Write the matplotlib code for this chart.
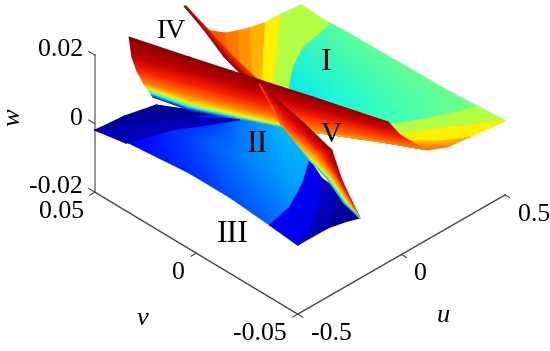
import numpy as np
import matplotlib
matplotlib.use('Agg')
import matplotlib.pyplot as plt
from mpl_toolkits.mplot3d import proj3d

plt.rcParams['font.family'] = ['Liberation Serif', 'DejaVu Serif']

# axis ticks
u_ticks = [-0.5, 0, 0.5]
v_ticks = [-0.05, 0, 0.05]
w_ticks = [-0.02, 0, 0.02]
u_ticklabels = ['-0.5', '0', '0.5']
v_ticklabels = ['-0.05', '0', '0.05']
w_ticklabels = ['-0.02', '0', '0.02']

# region I, smooth part
u_region1 = [[0.488, 0.495, 0.500, 0.505, 0.523], [-0.092, -0.084, -0.034, 0.020, 0.037]]
v_region1 = [[0.0393, 0.0287, 0.0020, -0.0222, -0.0477], [0.0056, -0.0034, -0.0181, -0.0299, -0.0578]]
w_region1 = [0.0, 0.012]
c_region1 = [[0.44, 0.46, 0.47, 0.48, 0.50], [0.355, 0.355, 0.37, 0.40, 0.43]]

# region I, colour steps near the v = 0.05 side
u_lime_top = [[0.459, 0.298, 0.191, 0.076], [0.383, 0.288, 0.137, -0.025]]
v_lime_top = [[0.0324, 0.0293, 0.0233, 0.0140], [0.0385, 0.0396, 0.0257, 0.0111]]
w_lime_top = [0.002, 0.008]
u_yellow_top = [[0.288, 0.137, -0.025], [0.207, 0.096, -0.047]]
v_yellow_top = [[0.0396, 0.0257, 0.0111], [0.0387, 0.0274, 0.0143]]
w_yellow_top = [0.008, 0.0088]
u_orange_top = [[0.207, -0.047], [0.138, -0.091], [0.085, -0.070], [0.035, -0.050], [-0.011, -0.011]]
v_orange_top = [[0.0387, 0.0143], [0.0391, 0.0147], [0.0396, 0.0227], [0.0405, 0.0308], [0.0452, 0.0452]]
w_orange_top = [0.0088, 0.0096, 0.0104, 0.0112, 0.012]
c_orange_top = [0.72, 0.75, 0.78, 0.81]

# region I, colour steps near the v = -0.05 side
u_lime_right = [[0.146, 0.265, 0.426, 0.438], [0.108, 0.244, 0.398, 0.421]]
v_lime_right = [[-0.0303, -0.0370, -0.0437, -0.0563], [-0.0382, -0.0465, -0.0565, -0.0580]]
w_lime_right = [0.006, 0.0072]
u_yellow_right = [[0.108, 0.244, 0.398, 0.421], [0.088, 0.180, 0.258, 0.410]]
v_yellow_right = [[-0.0382, -0.0465, -0.0565, -0.0580], [-0.0466, -0.0531, -0.0575, -0.0592]]
w_yellow_right = [0.0072, 0.008]
u_orange_right = [[0.086, 0.167, 0.258], [0.087, 0.149, 0.247]]
v_orange_right = [[-0.0439, -0.0519, -0.0575], [-0.0537, -0.0573, -0.0586]]
w_orange_right = [0.008, 0.0088]
c_orange_right = [[0.70, 0.70, 0.70], [0.80, 0.78, 0.70]]

# regions II and III
u_blue = [[-0.527, -0.496, -0.470, -0.470, -0.485, -0.498],
          [-0.527, -0.385, -0.298, -0.273, -0.248, -0.299],
          [-0.527, -0.273, -0.171, -0.129, -0.039, -0.120]]
v_blue = [[0.0473, 0.0336, 0.0065, -0.0132, -0.0346, -0.0498],
          [0.0473, 0.0375, 0.0168, -0.0005, -0.0168, -0.0323],
          [0.0473, 0.0430, 0.0257, 0.0167, 0.0046, -0.0170]]
w_blue = [0.0, 0.0, 0.0]
c_blue = [[0.12, 0.12, 0.17, 0.20, 0.22, 0.24],
          [0.12, 0.13, 0.21, 0.25, 0.28, 0.28],
          [0.10, 0.10, 0.16, 0.24, 0.31, 0.30]]
u_blue_l1 = [[-0.527, -0.503, -0.336, -0.129], [-0.527, -0.480, -0.241, -0.125]]
v_blue_l1 = [[0.0473, 0.0343, 0.0287, 0.0167], [0.0473, 0.0452, 0.0300, 0.0171]]
w_blue_l1 = [0.0, 0.0]
u_blue_l2 = [[-0.527, -0.389, -0.241, -0.171], [-0.499, -0.369, -0.245, -0.139]]
v_blue_l2 = [[0.0473, 0.0396, 0.0300, 0.0257], [0.0501, 0.0490, 0.0459, 0.0290]]
w_blue_l2 = [0.0, -0.002]
u_blue_r1 = [[-0.120, -0.231, -0.362, -0.485], [-0.164, -0.271, -0.407, -0.498]]
v_blue_r1 = [[-0.0170, -0.0250, -0.0319, -0.0346], [-0.0274, -0.0375, -0.0464, -0.0498]]
w_blue_r1 = [0.0, 0.0]
u_blue_r2 = [[-0.164, -0.271, -0.407, -0.498], [-0.174, -0.246, -0.354, -0.498]]
v_blue_r2 = [[-0.0274, -0.0375, -0.0464, -0.0498], [-0.0363, -0.0432, -0.0499, -0.0498]]
w_blue_r2 = [0.0, 0.0]
u_blue_r3 = [[-0.174, -0.246, -0.354], [-0.145, -0.206, -0.259]]
v_blue_r3 = [[-0.0363, -0.0432, -0.0499], [-0.0335, -0.0505, -0.0486]]
w_blue_r3 = [0.0, -0.002]

# ridge IV
u_ridge4 = [[-0.336, -0.270, -0.165, -0.129, -0.046, -0.070, -0.070],
            [-0.332, -0.253, -0.136, -0.096, 0.004, -0.008, 0.008],
            [-0.304, -0.233, -0.108, -0.064, 0.044, 0.045, 0.081],
            [-0.273, -0.215, -0.081, -0.046, 0.087, 0.116, 0.149],
            [-0.237, -0.195, -0.057, -0.009, 0.132, 0.161, 0.194],
            [-0.222, -0.182, -0.037, 0.013, 0.154, 0.184, 0.216],
            [-0.218, -0.179, -0.027, 0.025, 0.165, 0.195, 0.227],
            [-0.220, -0.184, -0.024, 0.030, 0.171, 0.201, 0.233]]
v_ridge4 = [[0.0499, 0.0270, -0.0078, -0.0195, -0.0481, -0.0564, -0.0678],
            [0.0489, 0.0288, -0.0048, -0.0160, -0.0429, -0.0500, -0.0598],
            [0.0493, 0.0308, -0.0019, -0.0127, -0.0388, -0.0447, -0.0523],
            [0.0490, 0.0327, 0.0008, -0.0109, -0.0344, -0.0398, -0.0454],
            [0.0512, 0.0348, 0.0033, -0.0071, -0.0298, -0.0352, -0.0408],
            [0.0518, 0.0360, 0.0054, -0.0048, -0.0275, -0.0329, -0.0385],
            [0.0512, 0.0363, 0.0063, -0.0037, -0.0264, -0.0317, -0.0374],
            [0.0500, 0.0359, 0.0067, -0.0031, -0.0258, -0.0312, -0.0368]]
w_ridge4 = [0.0196, 0.014, 0.0088, 0.004, 0.0008, -0.0008, -0.0016, -0.002]
c_ridge4 = [[0.99, 0.99, 0.99, 0.99, 0.97, 0.90, 0.78],
            [0.94, 0.94, 0.94, 0.94, 0.93, 0.85, 0.78],
            [0.87, 0.87, 0.87, 0.87, 0.85, 0.80, 0.78],
            [0.76, 0.76, 0.76, 0.76, 0.78, 0.78, 0.78],
            [0.66, 0.66, 0.66, 0.72, 0.78, 0.78, 0.78],
            [0.50, 0.50, 0.60, 0.72, 0.78, 0.78, 0.78],
            [0.36, 0.36, 0.55, 0.72, 0.78, 0.78, 0.78],
            [0.12, 0.12, 0.50, 0.72, 0.78, 0.78, 0.78]]

# ridge V, part behind ridge IV and part in front of it
u_ridge5_top = [[-0.068, -0.117, -0.178, -0.242], [-0.018, -0.063, -0.112, -0.153]]
v_ridge5_top = [[0.0502, 0.0353, 0.0192, -0.0057], [0.0544, 0.0383, 0.0209, 0.0019]]
w_ridge5_top = [0.0192, 0.016]
c_ridge5_top = [[0.98, 0.98, 0.98, 0.98], [0.95, 0.88, 0.86, 0.86]]
u_ridge5 = [[-0.207, -0.260, -0.300, -0.398, -0.457, -0.509],
            [-0.157, -0.224, -0.272, -0.355, -0.411, -0.458],
            [-0.112, -0.196, -0.250, -0.315, -0.372, -0.414],
            [-0.067, -0.168, -0.226, -0.276, -0.333, -0.369],
            [-0.022, -0.133, -0.203, -0.236, -0.293, -0.324],
            [0.023, -0.091, -0.164, -0.194, -0.252, -0.279],
            [0.068, -0.046, -0.120, -0.152, -0.212, -0.234]]
v_ridge5 = [[-0.0012, -0.0289, -0.0463, -0.0613, -0.0719, -0.0816],
            [0.0040, -0.0222, -0.0405, -0.0554, -0.0667, -0.0764],
            [0.0086, -0.0164, -0.0353, -0.0499, -0.0619, -0.0718],
            [0.0132, -0.0105, -0.0303, -0.0443, -0.0572, -0.0672],
            [0.0178, -0.0050, -0.0260, -0.0388, -0.0525, -0.0626],
            [0.0224, -0.0001, -0.0217, -0.0335, -0.0479, -0.0580],
            [0.0270, 0.0045, -0.0170, -0.0287, -0.0433, -0.0534]]
w_ridge5 = [0.0196, 0.016, 0.0128, 0.0096, 0.0064, 0.0032, 0.0]
c_ridge5 = [[0.98, 0.98, 0.98, 0.95, 0.90, 0.85],
            [0.96, 0.94, 0.92, 0.88, 0.84, 0.80],
            [0.94, 0.90, 0.84, 0.78, 0.76, 0.75],
            [0.92, 0.86, 0.74, 0.70, 0.70, 0.70],
            [0.90, 0.82, 0.66, 0.62, 0.62, 0.60],
            [0.88, 0.78, 0.50, 0.45, 0.45, 0.40],
            [0.86, 0.74, 0.36, 0.30, 0.30, 0.25]]

fig = plt.figure(figsize=(5.5, 3.51), dpi=100)
ax = fig.add_axes([78.7 / 550, 4.7 / 351, 431 / 550, 431 / 351], projection='3d', proj_type='ortho')
ax.set_box_aspect((1, 1, 0.584))
ax.view_init(elev=36, azim=-134.36)
ax.set_axis_off()
ax.set_xlim(-0.5, 0.5, view_margin=0)
ax.set_ylim(-0.05, 0.05, view_margin=0)
ax.set_zlim(-0.02, 0.02, view_margin=0)

# box edges and ticks, in the style of a MATLAB surf
ax.plot([-0.5, -0.5], [0.05, 0.05], [-0.02, 0.02], color='#8c8c8c', lw=1.3)
ax.plot([-0.5, -0.5], [-0.05, 0.05], [-0.02, -0.02], color='#444444', lw=1.0)
ax.plot([-0.5, 0.5], [-0.05, -0.05], [-0.02, -0.02], color='#444444', lw=1.0)
for t in w_ticks:
    ax.plot([-0.5, -0.5], [0.05, 0.053], [t, t], color='#444444', lw=0.8)
for t in v_ticks:
    ax.plot([-0.5, -0.525], [t, t], [-0.02, -0.02], color='#444444', lw=0.8)
for t in u_ticks:
    ax.plot([t, t], [-0.05, -0.0525], [-0.02, -0.02], color='#444444', lw=0.8)
fig.canvas.draw()

# the surface goes on a flat axes on top, gouraud shading is not there in 3d
over = fig.add_axes([0, 0, 1, 1])
over.set_xlim(0, 550)
over.set_ylim(351, 0)
over.axis('off')


def to_px(u, v, w):
    u, v, w = np.broadcast_arrays(u, v, w)
    xp, yp, _ = proj3d.proj_transform(u.ravel(), v.ravel(), w.ravel(), ax.get_proj())
    d = ax.transData.transform(np.column_stack([xp, yp]))
    return d[:, 0].reshape(u.shape), 351 - d[:, 1].reshape(u.shape)


def draw(u, v, w, c):
    u = np.array(u)
    x, y = to_px(u, np.array(v), np.array(w)[:, None])
    c = np.broadcast_to(c, u.shape)
    over.pcolormesh(x, y, c, shading='gouraud', cmap='jet', vmin=0, vmax=1, antialiased=True)


# back to front
draw(u_region1, v_region1, w_region1, c_region1)
draw(u_lime_top, v_lime_top, w_lime_top, 0.57)
draw(u_yellow_top, v_yellow_top, w_yellow_top, 0.655)
for i, level in enumerate(c_orange_top):
    draw(u_orange_top[i:i + 2], v_orange_top[i:i + 2], w_orange_top[i:i + 2], level)
draw(u_lime_right, v_lime_right, w_lime_right, 0.57)
draw(u_yellow_right, v_yellow_right, w_yellow_right, 0.655)
draw(u_orange_right, v_orange_right, w_orange_right, c_orange_right)
draw(u_ridge5_top, v_ridge5_top, w_ridge5_top, c_ridge5_top)
draw(u_blue, v_blue, w_blue, c_blue)
draw(u_blue_l1, v_blue_l1, w_blue_l1, 0.05)
draw(u_blue_l2, v_blue_l2, w_blue_l2, 0.025)
draw(u_blue_r1, v_blue_r1, w_blue_r1, 0.10)
draw(u_blue_r2, v_blue_r2, w_blue_r2, 0.05)
draw(u_blue_r3, v_blue_r3, w_blue_r3, 0.025)
draw(u_ridge4, v_ridge4, w_ridge4, c_ridge4)
draw(u_ridge5, v_ridge5, w_ridge5, c_ridge5)

# tick labels
for t, s in zip(w_ticks, w_ticklabels):
    x, y = to_px(-0.5, 0.05, t)
    over.text(x - 12, y - 5, s, fontsize=18.5, ha='right', va='center')
for t, s in zip(v_ticks, v_ticklabels):
    x, y = to_px(-0.5, t, -0.02)
    over.text(x - 11, y + 20, s, fontsize=18.5, ha='right', va='center')
for t, s in zip(u_ticks, u_ticklabels):
    x, y = to_px(t, -0.05, -0.02)
    over.text(x + 13, y + 20, s, fontsize=18.5, ha='left', va='center')

over.text(443, 316, 'u', fontsize=19, style='italic', ha='center', va='center')
over.text(143, 319, 'v', fontsize=19, style='italic', ha='center', va='center')
over.text(13, 117, 'w', fontsize=19, style='italic', rotation=90, ha='center', va='center')

# region names
over.text(326, 63, 'I', fontsize=23, ha='center', va='center')
over.text(258, 144, 'II', fontsize=23, ha='center', va='center')
over.text(233, 235, 'III', fontsize=23, ha='center', va='center')
over.text(172, 32, 'IV', fontsize=20, ha='center', va='center')
over.text(331, 135, 'V', fontsize=21, ha='center', va='center')

fig.savefig('out.png', dpi=100)
